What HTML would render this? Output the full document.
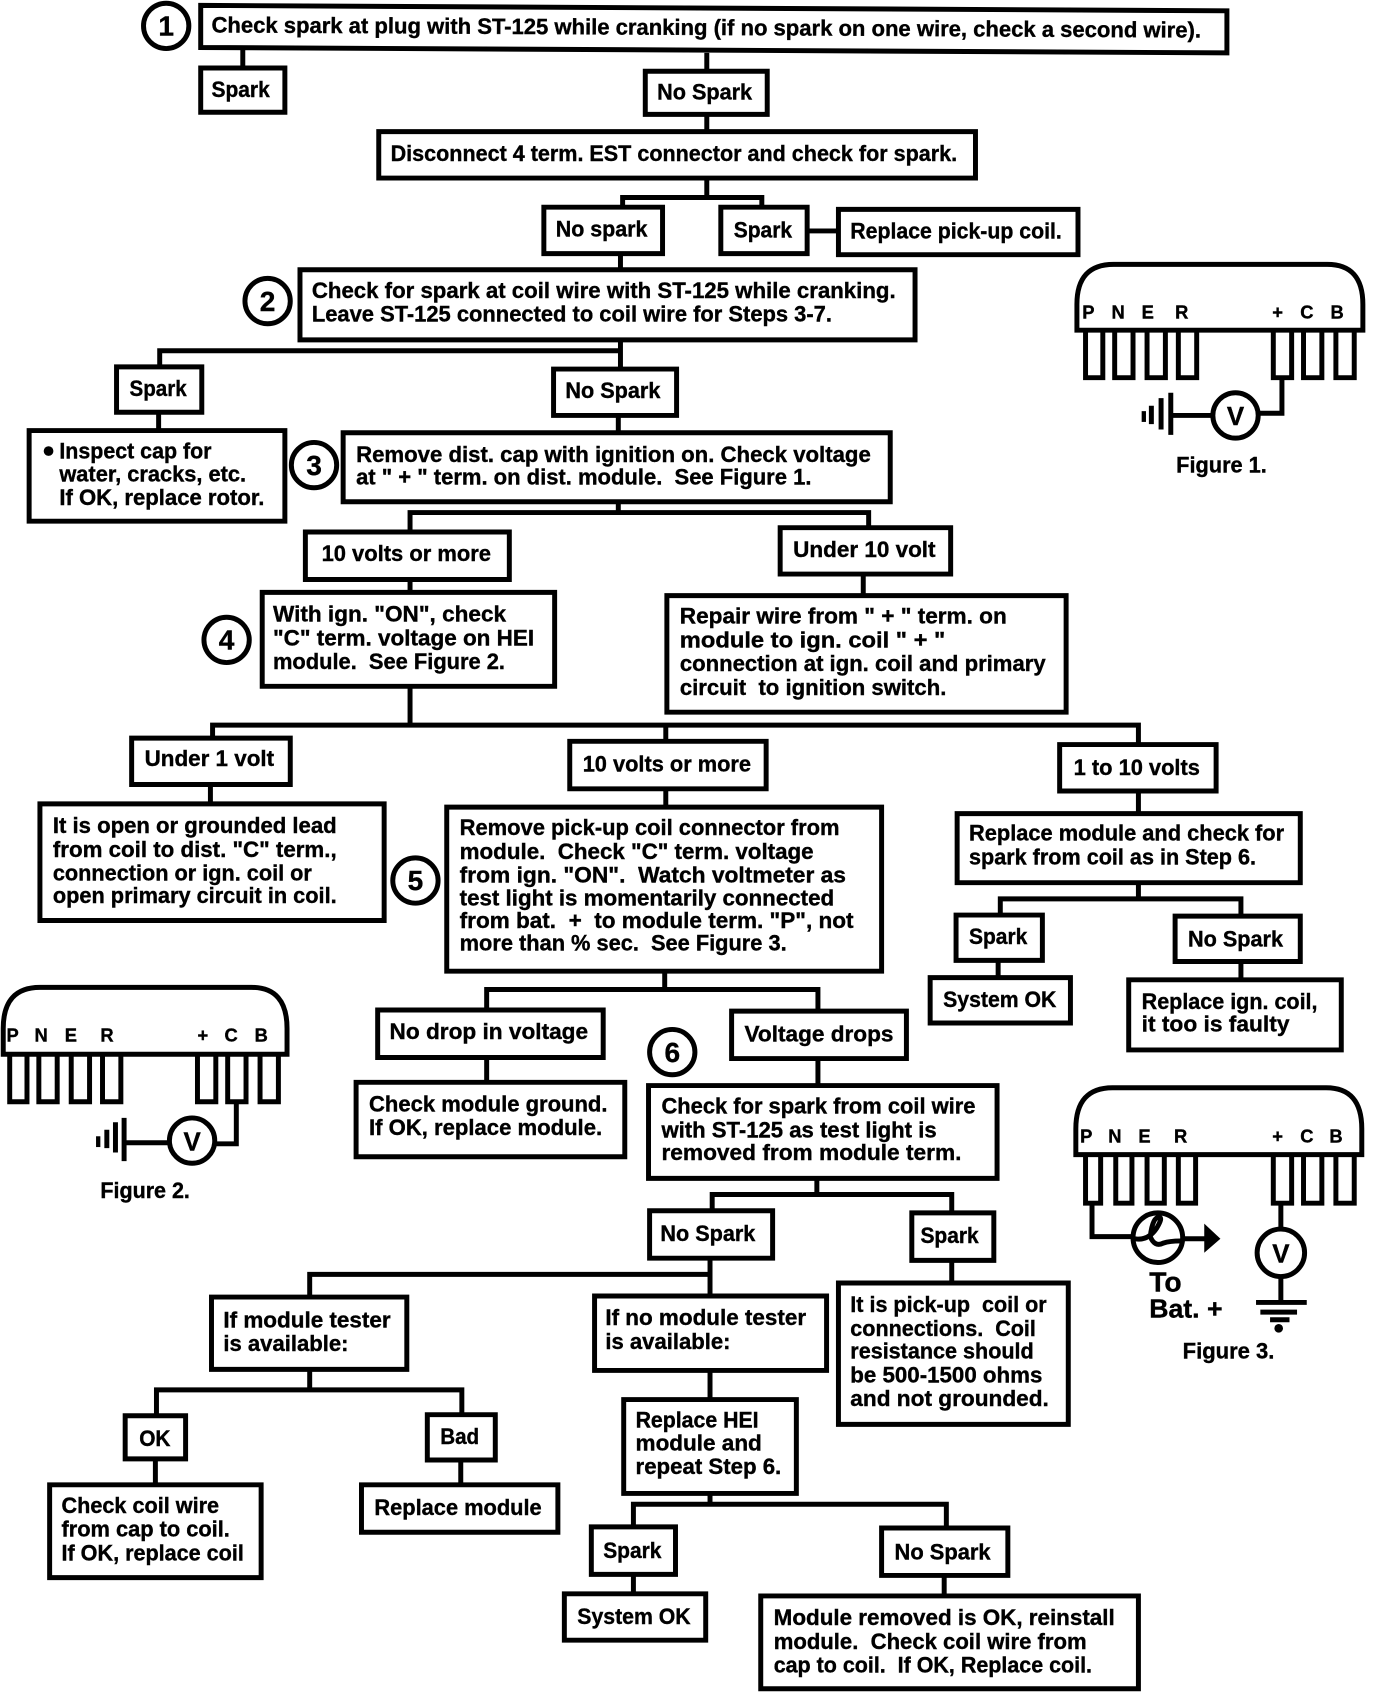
<!DOCTYPE html>
<html><head><meta charset="utf-8"><style>
html,body{margin:0;padding:0;background:#fff}
svg{display:block}
text{font-family:"Liberation Sans",sans-serif;font-weight:bold;font-size:20.5px;fill:#000;white-space:pre;stroke:#000;stroke-width:.35}
.l{font-size:17px}.n{font-size:26px;text-anchor:middle}.v{font-size:24px;text-anchor:middle}
.s{fill:none;stroke:#000;stroke-width:4.6}
</style></head><body>
<svg width="1392" height="1692" viewBox="0 0 1290 1568" xmlns="http://www.w3.org/2000/svg">
<rect width="1290" height="1568" fill="#fff"/>
<path class="s" d="M186 5L1137 10V49L186 44Z
M186 63H264V104H186Z M598 66H711V106H598Z M351 122H904V165H351Z
M504 192H614V235H504Z M668 192H748V235H668Z M777 194H999V236H777Z
M278 250H848V315H278Z M108 340H187V382H108Z M513 342H627V385H513Z
M27 399H264V483H27Z M318 401H825V465H318Z
M283 493H472V537H283Z M723 489H881V532H723Z
M243 549H514V636H243Z M618 552H988V660H618Z
M122 684H269V727H122Z M528 687H710V731H528Z M982 690H1127V733H982Z
M37 745H356V853H37Z M414 748H817V900H414Z M887 754H1205V818H887Z
M886 848H966V890H886Z M1089 849H1205V891H1089Z M862 906H992V948H862Z M1046 908H1243V973H1046Z
M350 936H559V980H350Z M678 937H840V981H678Z M330 1003H579V1072H330Z M601 1006H924V1092H601Z
M602 1122H716V1166H602Z M845 1124H921V1168H845Z
M196 1202H377V1269H196Z M551 1201H766V1270H551Z M777 1189H990V1320H777Z M578 1297H738V1384H578Z
M116 1312H172V1352H116Z M396 1311H459V1353H396Z M46 1376H242V1462H46Z M335 1376H517V1420H335Z
M548 1415H626V1459H548Z M817 1416H934V1460H817Z M523 1477H654V1520H523Z M705 1479H1055V1565H705Z"/>
<path class="s" d="M225 46V63 M655 49V66 M655 106V122 M655 165V183 M577 190V183H706V192 M748 214H777 M575 235V250
M575 315V342 M148 340V325H575 M147 382V399 M573 385V401 M573 465V475 M380 492V475H805V489 M380 537V549 M800 532V552
M380 636V672 M197 684V672H1055V690 M617 672V687 M195 727V745 M617 731V748 M1055 733V754 M1055 818V833 M927 848V833H1150V849
M925 890V906 M1150 891V908 M616 900V917 M451 936V917H758V937 M451 980V1003 M758 981V1006 M757 1092V1107 M660 1122V1107H882V1124
M658 1166V1201 M287 1202V1181H658 M882 1168V1189 M658 1270V1297 M287 1269V1288 M145 1312V1288H428V1311 M144 1352V1376 M427 1353V1376
M658 1384V1394 M587 1415V1394H877V1416 M587 1459V1477 M875 1460V1479"/>
<g class="s"><circle cx="154" cy="24" r="21"/><circle cx="248" cy="279" r="21"/><circle cx="291" cy="431" r="21"/><circle cx="210" cy="593" r="21"/><circle cx="385" cy="816" r="21"/><circle cx="623" cy="975" r="21"/></g>
<text class="n" x="154" y="33">1</text><text class="n" x="248" y="288">2</text><text class="n" x="291" y="440">3</text><text class="n" x="210" y="602">4</text><text class="n" x="385" y="825">5</text><text class="n" x="623" y="984">6</text>

<text x="196" y="30" textLength="917" lengthAdjust="spacingAndGlyphs" transform="rotate(.3 196 30)">Check spark at plug with ST-125 while cranking (if no spark on one wire, check a second wire).</text>
<text x="196" y="90" textLength="54" lengthAdjust="spacingAndGlyphs">Spark</text>
<text x="609" y="92" textLength="88" lengthAdjust="spacingAndGlyphs">No Spark</text>
<text x="362" y="149" textLength="525" lengthAdjust="spacingAndGlyphs">Disconnect 4 term. EST connector and check for spark.</text>
<text x="515" y="219" textLength="85" lengthAdjust="spacingAndGlyphs">No spark</text>
<text x="680" y="220" textLength="54" lengthAdjust="spacingAndGlyphs">Spark</text>
<text x="788" y="221" textLength="196" lengthAdjust="spacingAndGlyphs">Replace pick-up coil.</text>
<text x="289" y="276" textLength="541" lengthAdjust="spacingAndGlyphs">Check for spark at coil wire with ST-125 while cranking.</text>
<text x="289" y="298" textLength="482" lengthAdjust="spacingAndGlyphs">Leave ST-125 connected to coil wire for Steps 3-7.</text>
<text x="120" y="367" textLength="53" lengthAdjust="spacingAndGlyphs">Spark</text>
<text x="524" y="369" textLength="88" lengthAdjust="spacingAndGlyphs">No Spark</text>
<circle cx="45" cy="418" r="4.5"/>
<text x="55" y="425" textLength="141" lengthAdjust="spacingAndGlyphs">Inspect cap for</text>
<text x="55" y="446" textLength="173" lengthAdjust="spacingAndGlyphs">water, cracks, etc.</text>
<text x="55" y="468" textLength="190" lengthAdjust="spacingAndGlyphs">If OK, replace rotor.</text>
<text x="330" y="428" textLength="477" lengthAdjust="spacingAndGlyphs">Remove dist. cap with ignition on. Check voltage</text>
<text x="330" y="449" textLength="422" lengthAdjust="spacingAndGlyphs">at " + " term. on dist. module.  See Figure 1.</text>
<text x="298" y="520" textLength="157" lengthAdjust="spacingAndGlyphs">10 volts or more</text>
<text x="735" y="516" textLength="132" lengthAdjust="spacingAndGlyphs">Under 10 volt</text>
<text x="253" y="576" textLength="216" lengthAdjust="spacingAndGlyphs">With ign. "ON", check</text>
<text x="253" y="598" textLength="242" lengthAdjust="spacingAndGlyphs">"C" term. voltage on HEI</text>
<text x="253" y="620" textLength="215" lengthAdjust="spacingAndGlyphs">module.  See Figure 2.</text>
<text x="630" y="578" textLength="303" lengthAdjust="spacingAndGlyphs">Repair wire from " + " term. on</text>
<text x="630" y="600" textLength="246" lengthAdjust="spacingAndGlyphs">module to ign. coil " + "</text>
<text x="630" y="622" textLength="339" lengthAdjust="spacingAndGlyphs">connection at ign. coil and primary</text>
<text x="630" y="644" textLength="247" lengthAdjust="spacingAndGlyphs">circuit  to ignition switch.</text>
<text x="134" y="710" textLength="120" lengthAdjust="spacingAndGlyphs">Under 1 volt</text>
<text x="540" y="715" textLength="156" lengthAdjust="spacingAndGlyphs">10 volts or more</text>
<text x="995" y="718" textLength="117" lengthAdjust="spacingAndGlyphs">1 to 10 volts</text>
<text x="49" y="772" textLength="263" lengthAdjust="spacingAndGlyphs">It is open or grounded lead</text>
<text x="49" y="794" textLength="263" lengthAdjust="spacingAndGlyphs">from coil to dist. "C" term.,</text>
<text x="49" y="816" textLength="240" lengthAdjust="spacingAndGlyphs">connection or ign. coil or</text>
<text x="49" y="837" textLength="263" lengthAdjust="spacingAndGlyphs">open primary circuit in coil.</text>
<text x="426" y="774" textLength="352" lengthAdjust="spacingAndGlyphs">Remove pick-up coil connector from</text>
<text x="426" y="796" textLength="328" lengthAdjust="spacingAndGlyphs">module.  Check "C" term. voltage</text>
<text x="426" y="818" textLength="358" lengthAdjust="spacingAndGlyphs">from ign. "ON".  Watch voltmeter as</text>
<text x="426" y="839" textLength="347" lengthAdjust="spacingAndGlyphs">test light is momentarily connected</text>
<text x="426" y="860" textLength="365" lengthAdjust="spacingAndGlyphs">from bat.  +  to module term. "P", not</text>
<text x="426" y="881" textLength="303" lengthAdjust="spacingAndGlyphs">more than % sec.  See Figure 3.</text>
<text x="898" y="779" textLength="292" lengthAdjust="spacingAndGlyphs">Replace module and check for</text>
<text x="898" y="801" textLength="266" lengthAdjust="spacingAndGlyphs">spark from coil as in Step 6.</text>
<text x="898" y="875" textLength="54" lengthAdjust="spacingAndGlyphs">Spark</text>
<text x="1101" y="877" textLength="88" lengthAdjust="spacingAndGlyphs">No Spark</text>
<text x="874" y="933" textLength="105" lengthAdjust="spacingAndGlyphs">System OK</text>
<text x="1058" y="935" textLength="163" lengthAdjust="spacingAndGlyphs">Replace ign. coil,</text>
<text x="1058" y="956" textLength="137" lengthAdjust="spacingAndGlyphs">it too is faulty</text>
<text x="361" y="963" textLength="184" lengthAdjust="spacingAndGlyphs">No drop in voltage</text>
<text x="690" y="965" textLength="138" lengthAdjust="spacingAndGlyphs">Voltage drops</text>
<text x="342" y="1030" textLength="221" lengthAdjust="spacingAndGlyphs">Check module ground.</text>
<text x="342" y="1052" textLength="216" lengthAdjust="spacingAndGlyphs">If OK, replace module.</text>
<text x="613" y="1032" textLength="291" lengthAdjust="spacingAndGlyphs">Check for spark from coil wire</text>
<text x="613" y="1054" textLength="255" lengthAdjust="spacingAndGlyphs">with ST-125 as test light is</text>
<text x="613" y="1075" textLength="278" lengthAdjust="spacingAndGlyphs">removed from module term.</text>
<text x="612" y="1150" textLength="88" lengthAdjust="spacingAndGlyphs">No Spark</text>
<text x="853" y="1152" textLength="54" lengthAdjust="spacingAndGlyphs">Spark</text>
<text x="207" y="1230" textLength="155" lengthAdjust="spacingAndGlyphs">If module tester</text>
<text x="207" y="1252" textLength="116" lengthAdjust="spacingAndGlyphs">is available:</text>
<text x="561" y="1228" textLength="186" lengthAdjust="spacingAndGlyphs">If no module tester</text>
<text x="561" y="1250" textLength="116" lengthAdjust="spacingAndGlyphs">is available:</text>
<text x="788" y="1216" textLength="182" lengthAdjust="spacingAndGlyphs">It is pick-up  coil or</text>
<text x="788" y="1238" textLength="172" lengthAdjust="spacingAndGlyphs">connections.  Coil</text>
<text x="788" y="1259" textLength="170" lengthAdjust="spacingAndGlyphs">resistance should</text>
<text x="788" y="1281" textLength="178" lengthAdjust="spacingAndGlyphs">be 500-1500 ohms</text>
<text x="788" y="1303" textLength="184" lengthAdjust="spacingAndGlyphs">and not grounded.</text>
<text x="589" y="1323" textLength="114" lengthAdjust="spacingAndGlyphs">Replace HEI</text>
<text x="589" y="1344" textLength="117" lengthAdjust="spacingAndGlyphs">module and</text>
<text x="589" y="1366" textLength="135" lengthAdjust="spacingAndGlyphs">repeat Step 6.</text>
<text x="129" y="1340" textLength="29" lengthAdjust="spacingAndGlyphs">OK</text>
<text x="408" y="1338" textLength="36" lengthAdjust="spacingAndGlyphs">Bad</text>
<text x="57" y="1402" textLength="146" lengthAdjust="spacingAndGlyphs">Check coil wire</text>
<text x="57" y="1424" textLength="156" lengthAdjust="spacingAndGlyphs">from cap to coil.</text>
<text x="57" y="1446" textLength="169" lengthAdjust="spacingAndGlyphs">If OK, replace coil</text>
<text x="347" y="1404" textLength="155" lengthAdjust="spacingAndGlyphs">Replace module</text>
<text x="559" y="1444" textLength="54" lengthAdjust="spacingAndGlyphs">Spark</text>
<text x="829" y="1445" textLength="89" lengthAdjust="spacingAndGlyphs">No Spark</text>
<text x="535" y="1505" textLength="105" lengthAdjust="spacingAndGlyphs">System OK</text>
<text x="717" y="1506" textLength="316" lengthAdjust="spacingAndGlyphs">Module removed is OK, reinstall</text>
<text x="717" y="1528" textLength="290" lengthAdjust="spacingAndGlyphs">module.  Check coil wire from</text>
<text x="717" y="1550" textLength="295" lengthAdjust="spacingAndGlyphs">cap to coil.  If OK, Replace coil.</text>

<!-- Figure 1 -->
<path class="s" d="M998 306V282Q998 245 1032 245H1230Q1263 245 1263 282V306Z
M1006 308V350H1022V308 M1033 308V350H1050V308 M1063 308V350H1080V308 M1092 308V350H1109V308 M1180 308V350H1197V308 M1208 308V350H1225V308 M1238 308V350H1255V308
M1188 350V383H1167 M1124 385H1085 M1085 364V403 M1076 369V398 M1067 376V393"/>
<path d="M1058 381h4v10h-4z"/>
<circle class="s" cx="1145" cy="385" r="21"/>
<text class="v" x="1145" y="394">V</text>
<g class="l"><text class="l" x="1003" y="295">P</text><text class="l" x="1030" y="295">N</text><text class="l" x="1058" y="295">E</text><text class="l" x="1089" y="295">R</text><text class="l" x="1179" y="295">+</text><text class="l" x="1205" y="295">C</text><text class="l" x="1233" y="295">B</text></g>
<text x="1090" y="438" textLength="84" lengthAdjust="spacingAndGlyphs">Figure 1.</text>

<!-- Figure 2 -->
<path class="s" d="M3 977V953Q3 915 37 915H233Q266 915 266 953V977Z
M9 979V1021H25V979 M36 979V1021H53V979 M66 979V1021H83V979 M95 979V1021H112V979 M183 979V1021H200V979 M211 979V1021H228V979 M241 979V1021H258V979
M219 1021V1060H199 M157 1059H115 M115 1036V1076 M107 1040V1068 M99 1047V1064"/>
<path d="M89 1053h4v10h-4z"/>
<circle class="s" cx="178" cy="1057" r="21"/>
<text class="v" x="178" y="1066">V</text>
<text class="l" x="6" y="965">P</text><text class="l" x="32" y="965">N</text><text class="l" x="60" y="965">E</text><text class="l" x="93" y="965">R</text><text class="l" x="183" y="965">+</text><text class="l" x="208" y="965">C</text><text class="l" x="236" y="965">B</text>
<text x="93" y="1110" textLength="83" lengthAdjust="spacingAndGlyphs">Figure 2.</text>

<!-- Figure 3 -->
<path class="s" d="M997 1070V1046Q997 1008 1031 1008H1229Q1262 1008 1262 1046V1070Z
M1006 1072V1115H1020V1072 M1034 1072V1115H1049V1072 M1063 1072V1115H1079V1072 M1092 1072V1115H1108V1072 M1180 1072V1115H1197V1072 M1208 1072V1115H1225V1072 M1238 1072V1115H1255V1072
M1012 1115V1146H1050 M1096 1148H1118 M1187 1115V1139 M1187 1184V1207 M1164 1207H1211 M1168 1216H1202 M1177 1223H1195
M1052 1148Q1064 1150 1072 1138Q1078 1128 1074 1128Q1068 1128 1066 1146Q1070 1156 1078 1152Q1084 1150 1094 1150"/>
<circle class="s" cx="1073" cy="1147" r="23"/>
<circle class="s" cx="1187" cy="1161" r="22"/>
<path d="M1116 1134L1131 1148L1116 1161Z"/><circle cx="1185" cy="1231" r="4"/>
<text class="v" x="1187" y="1170">V</text>
<text class="l" x="1001" y="1059">P</text><text class="l" x="1027" y="1059">N</text><text class="l" x="1055" y="1059">E</text><text class="l" x="1088" y="1059">R</text><text class="l" x="1179" y="1059">+</text><text class="l" x="1205" y="1059">C</text><text class="l" x="1232" y="1059">B</text>
<text x="1065" y="1197" textLength="30" lengthAdjust="spacingAndGlyphs" style="font-size:26px">To</text>
<text x="1065" y="1221" textLength="68" lengthAdjust="spacingAndGlyphs" style="font-size:24px">Bat. +</text>
<text x="1096" y="1259" textLength="85" lengthAdjust="spacingAndGlyphs">Figure 3.</text>
</svg>
</body></html>
